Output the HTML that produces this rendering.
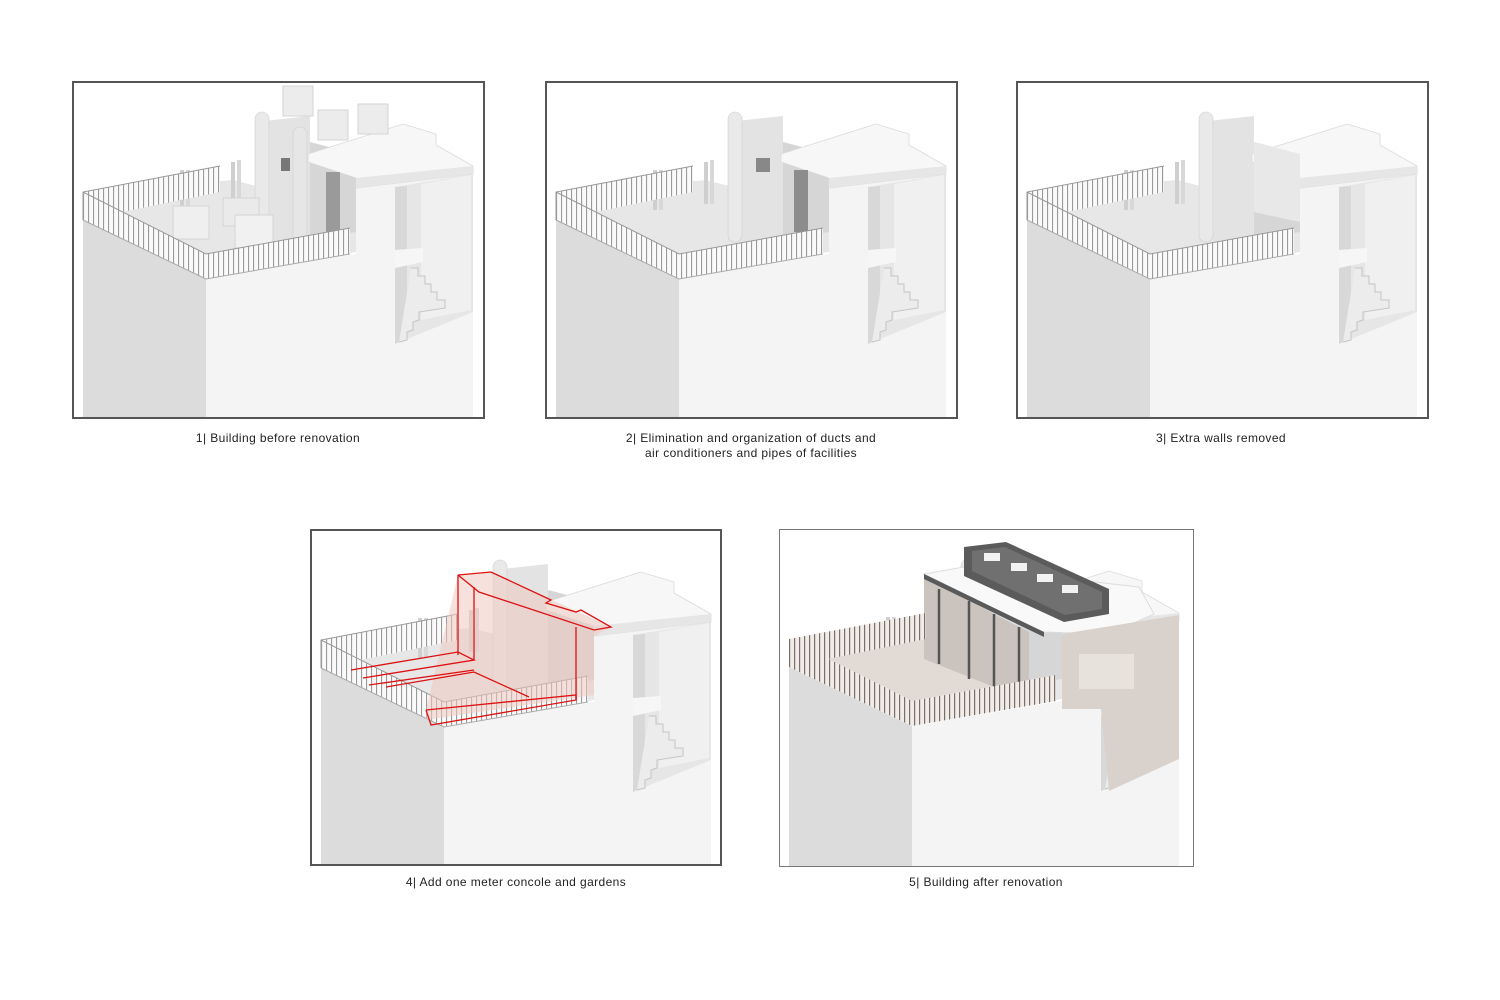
<!DOCTYPE html>
<html><head><meta charset="utf-8"><style>
body{margin:0;width:1500px;height:1000px;background:#fff;position:relative;overflow:hidden;font-family:"Liberation Sans",sans-serif}
.p{position:absolute;box-sizing:border-box;border:2px solid #555;background:#fff;overflow:hidden}
.p svg{position:absolute;left:0;top:0}
.c{position:absolute;font-size:12px;color:#222;text-align:center;letter-spacing:.4px;line-height:15px;width:400px}
</style></head><body>
<svg width="0" height="0" style="position:absolute">
<defs>
<pattern id="rl" width="5" height="10" patternUnits="userSpaceOnUse"><rect width="5" height="10" fill="#fafafa"/><rect x="0" width="1.1" height="10" fill="#9a9a9a"/></pattern>
<pattern id="rl5" width="5" height="10" patternUnits="userSpaceOnUse"><rect width="5" height="10" fill="#f1ece8"/><rect x="0" width="1.2" height="10" fill="#77706b"/></pattern>
<g id="base">
<polygon points="10,138 133,197 133,340 10,340" fill="#dcdcdc"/>
<polygon points="133,197 283,172 283,105 400,86 400,340 133,340" fill="#f4f4f4"/>
<polygon points="10,136 133,195 283,170 283,130 160,98 10,112" fill="#e7e7e7"/>
<!-- stair recess -->
<polygon points="322,105 400,92 400,230 322,262" fill="#e6e6e6"/>
<polygon points="322,105 334,104 334,256 322,262" fill="#d8d8d8"/>
<polygon points="348,102 398,93 398,228 348,238" fill="#f0f0f0"/>
<polygon points="322,168 350,166 350,180 322,186" fill="#f6f6f6"/>
<polyline points="338,186 345,186 345,194 352,194 352,202 358,202 358,210 364,210 364,218 372,218 372,226 346,230 346,238 340,240 340,248 334,250 334,258 326,260" fill="#ececec" stroke="#c4c4c4" stroke-width="1"/>
<!-- penthouse -->
<polygon points="182,40 237,34 237,157 182,160" fill="#e3e3e3"/>
<polygon points="237,60 283,72 283,150 237,157" fill="#d6d6d6"/>
<rect x="182" y="30" width="14" height="130" rx="7" fill="#e9e9e9" stroke="#cfcfcf" stroke-width=".6"/>
<!-- roof slab -->
<polygon points="235,72 330,42 363,52 363,63 400,84 400,92 283,106 283,96 235,80" fill="#f7f7f7" stroke="#dadada" stroke-width=".8"/>
<polygon points="283,96 400,84 400,92 283,106" fill="#e6e6e6"/>
<rect x="107" y="88" width="4" height="40" fill="#cfcfcf"/><rect x="113" y="88" width="4" height="40" fill="#d8d8d8"/>
<rect x="158" y="80" width="4" height="42" fill="#cfcfcf"/><rect x="164" y="78" width="4" height="44" fill="#d8d8d8"/>
</g>
<g id="rails">
<polygon points="10,110 147,84 147,110 10,138" fill="url(#rl)"/>
<polygon points="10,110 133,172 133,197 10,138" fill="url(#rl)"/>
<polygon points="133,172 277,146 277,172 133,197" fill="url(#rl)"/>
<polyline points="10,138 10,110 147,84" fill="none" stroke="#999" stroke-width="1"/>
<polyline points="10,110 133,172 277,146" fill="none" stroke="#999" stroke-width="1"/>
<polyline points="10,138 133,197 277,172" fill="none" stroke="#aaa" stroke-width="1"/>
</g>
</defs></svg>

<div class="p" style="left:72px;top:81px;width:413px;height:338px">
<svg width="412" height="337" viewBox="1 1 412 337"><use href="#base"/>
<rect x="210" y="4" width="30" height="30" fill="#ececec" stroke="#d4d4d4"/>
<rect x="245" y="28" width="30" height="30" fill="#ececec" stroke="#d4d4d4"/>
<rect x="285" y="22" width="30" height="30" fill="#ececec" stroke="#d4d4d4"/>
<rect x="220" y="45" width="14" height="115" rx="7" fill="#e6e6e6" stroke="#cfcfcf" stroke-width=".6"/>
<rect x="208" y="76" width="9" height="13" fill="#777"/>
<rect x="253" y="90" width="14" height="62" fill="#9a9a9a"/>
<rect x="100" y="124" width="36" height="33" fill="#efefef" stroke="#d4d4d4"/>
<rect x="150" y="116" width="36" height="28" fill="#eaeaea" stroke="#d4d4d4"/>
<rect x="162" y="133" width="38" height="33" fill="#f1f1f1" stroke="#d4d4d4"/>
<use href="#rails"/></svg></div>
<div class="c" style="left:78px;top:431px">1| Building before renovation</div>

<div class="p" style="left:545px;top:81px;width:413px;height:338px">
<svg width="412" height="337" viewBox="1 1 412 337"><use href="#base"/>
<rect x="210" y="76" width="14" height="14" fill="#888"/>
<rect x="248" y="88" width="14" height="62" fill="#8c8c8c"/>
<use href="#rails"/></svg></div>
<div class="c" style="left:551px;top:431px">2| Elimination and organization of ducts and<br>air conditioners and pipes of facilities</div>

<div class="p" style="left:1016px;top:81px;width:413px;height:338px">
<svg width="412" height="337" viewBox="1 1 412 337"><use href="#base"/>
<polygon points="237,60 283,72 283,140 237,130" fill="#e8e8e8"/>
<use href="#rails"/></svg></div>
<div class="c" style="left:1021px;top:431px">3| Extra walls removed</div>

<div class="p" style="left:310px;top:529px;width:412px;height:337px">
<svg width="412" height="337" viewBox="1 1 412 337"><use href="#base"/>
<use href="#rails"/>
<polygon points="147,45 180,42 300,97 283,106 283,165 115,190 115,180" fill="#f0c9bf" opacity=".55"/>
<g fill="none" stroke="#d11" stroke-width="1.3">
<polyline points="147,45 180,42 240,70 235,73 265,82 270,80 300,97 283,100 168,62 147,45"/>
<line x1="147" y1="45" x2="147" y2="125"/><line x1="163" y1="57" x2="163" y2="130"/>
<line x1="265" y1="97" x2="265" y2="170"/>
<polyline points="40,140 147,122 163,130 52,148"/>
<polyline points="58,155 163,140"/>
<polyline points="75,157 163,142 218,167"/>
<polyline points="115,180 265,165 265,170 120,195 115,180"/>
</g></svg></div>
<div class="c" style="left:316px;top:875px">4| Add one meter concole and gardens</div>

<div class="p" style="left:779px;top:529px;width:415px;height:338px;border:1.5px solid #777">
<svg width="412" height="337" viewBox="1 1 412 337"><use href="#base"/>
<polygon points="10,136 133,195 250,175 250,130 145,100 10,112" fill="#e2dbd5"/>
<polygon points="145,48 250,103 250,172 145,130" fill="#cbc3bd"/>
<g stroke="#555" stroke-width="2.5"><line x1="160" y1="60" x2="160" y2="135"/><line x1="190" y1="72" x2="190" y2="150"/><line x1="215" y1="85" x2="215" y2="165"/><line x1="240" y1="98" x2="240" y2="170"/></g>
<polygon points="145,45 185,38 360,58 375,85 330,105 265,103 250,97" fill="#f9f9f9" stroke="#ddd"/>
<polygon points="145,45 265,103 265,108 145,50" fill="#5a5a5a"/>
<polygon points="185,18 227,13 330,60 330,85 285,93 185,47" fill="#5b5b5b"/>
<polygon points="193,22 226,18 323,63 323,80 286,86 193,42" fill="#707070"/>
<rect x="205" y="24" width="16" height="8" fill="#f2f2f2"/><rect x="232" y="34" width="16" height="8" fill="#f2f2f2"/><rect x="258" y="45" width="16" height="8" fill="#f2f2f2"/><rect x="283" y="56" width="16" height="8" fill="#f2f2f2"/>
<polygon points="283,105 400,86 400,230 330,262 322,180 283,180" fill="#d9d2cc"/>
<polygon points="300,125 355,125 355,160 300,160" fill="#e8e2dd"/>
<polygon points="10,110 147,84 147,110 10,138" fill="url(#rl5)"/>
<polygon points="10,110 133,172 133,197 10,138" fill="url(#rl5)"/>
<polygon points="133,172 277,146 277,172 133,197" fill="url(#rl5)"/>
</svg></div>
<div class="c" style="left:786px;top:875px">5| Building after renovation</div>
</body></html>
